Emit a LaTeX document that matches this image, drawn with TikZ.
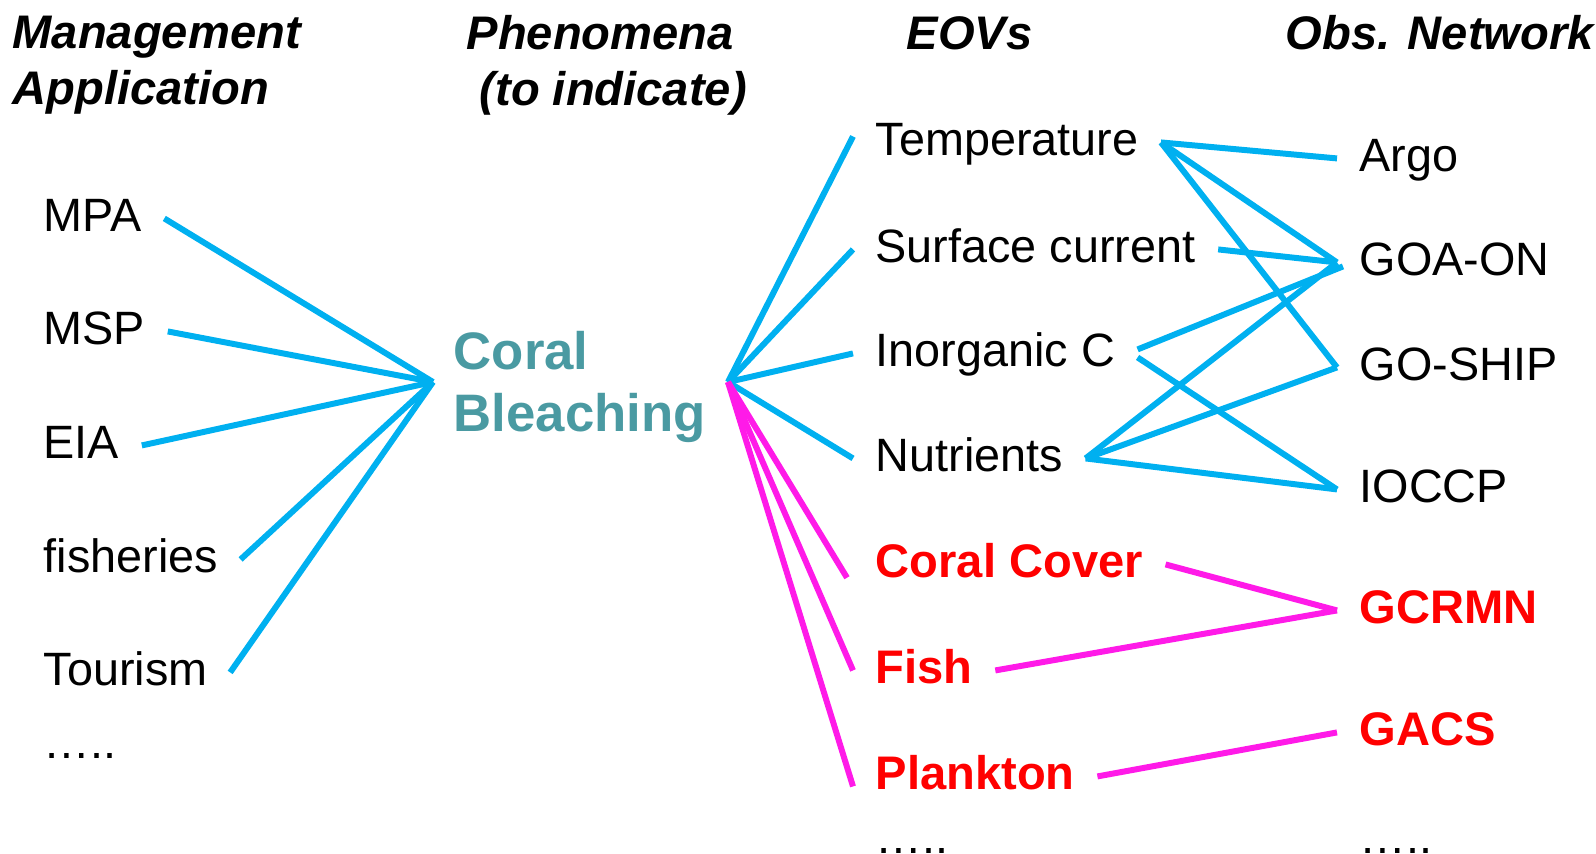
\documentclass[tikz,border=0pt]{standalone}
\usepackage{fontspec}
\setmainfont{Liberation Sans}
\usetikzlibrary{positioning,calc}
\definecolor{linkblue}{HTML}{00B0F0}
\definecolor{linkpink}{HTML}{FF1AE8}
\definecolor{eovred}{HTML}{FF0000}
\definecolor{bleachteal}{HTML}{4A9AA2}
\tikzset{
  headtext/.style={
    anchor=north west,
    inner sep=0pt,
    align=left,
    font=\fontsize{13.4}{15.9}\selectfont\bfseries\itshape
  },
  itemtext/.style={
    anchor=base west,
    inner ysep=0pt,
    inner xsep=0.22cm,
    text height=0.716em,
    text depth=0pt,
    font=\fontsize{13.3}{16}\selectfont
  },
  redtext/.style={
    itemtext,
    text=eovred,
    font=\fontsize{13.4}{16}\selectfont\bfseries
  },
  bleachtext/.style={
    anchor=north west,
    inner sep=0pt,
    align=left,
    text=bleachteal,
    font=\fontsize{15}{17.5}\selectfont\bfseries
  },
  bluelink/.style={
    draw=linkblue,
    line width=1.7pt
  },
  pinklink/.style={
    draw=linkpink,
    line width=1.7pt
  }
}

\begin{document}
\begin{tikzpicture}[x=0.01cm,y=-0.01cm]
\useasboundingbox (0,0) rectangle (1596,853);
% column heads
\node[headtext] (headmgmt) at (12,15) {Management\\Application};
\node[headtext] (headphen) at (466,15) {Phenomena\\\hspace*{0.13cm}(to indicate)};
\node[headtext, anchor=base west] (headeov) at (906,49) {EOVs};
\node[headtext, anchor=base west] (headnet) at (1285,49) {Obs. Network};
% management applications
\node[itemtext] (mpa) at (21,231) {MPA};
\node[itemtext] (msp) at (21,344) {MSP};
\node[itemtext] (eia) at (21,458) {EIA};
\node[itemtext] (fisheries) at (21,572) {fisheries};
\node[itemtext] (tourism) at (21,685) {Tourism};
\node[itemtext] (mgmtmore) at (21,758) {…..};
% phenomenon
\node[bleachtext] (bleach) at (453,331) {Coral\\Bleaching};
\coordinate (hubL) at (433,382);
\coordinate (hubR) at (728,382);
% EOVs
\node[itemtext] (temp) at (853,155) {Temperature};
\node[itemtext] (current) at (853,262) {Surface current};
\node[itemtext] (inorgc) at (853,366) {Inorganic C};
\node[itemtext] (nutr) at (853,471) {Nutrients};
\node[redtext] (cover) at (853,577) {Coral Cover};
\node[redtext] (fish) at (853,683) {Fish};
\node[redtext] (plankton) at (853,789) {Plankton};
\node[itemtext] (eovmore) at (853,853) {…..};
% observing networks
\node[itemtext] (argo) at (1337,171) {Argo};
\node[itemtext] (goaon) at (1337,275) {GOA-ON};
\node[itemtext] (goship) at (1337,380) {GO-SHIP};
\node[itemtext] (ioccp) at (1337,502) {IOCCP};
\node[redtext] (gcrmn) at (1337,623) {GCRMN};
\node[redtext] (gacs) at (1337,745) {GACS};
\node[itemtext] (netmore) at (1337,853) {…..};
% links
\foreach \a in {mpa,msp,eia,fisheries,tourism}
  \draw[bluelink] (\a.east) -- (hubL);
\draw[bluelink] (hubR) -- ([yshift=0.06cm]temp.west);
\foreach \a in {current,inorgc,nutr}
  \draw[bluelink] (hubR) -- (\a.west);
\foreach \b in {argo,goaon,goship}
  \draw[bluelink] (temp.east) -- (\b.west);
\draw[bluelink] (current.east) -- (goaon.west);
\draw[bluelink] ([yshift=0.04cm]inorgc.east) -- ([xshift=0.06cm,yshift=-0.04cm]goaon.west);
\draw[bluelink] ([yshift=-0.04cm]inorgc.east) -- (ioccp.west);
\foreach \b in {goaon,goship,ioccp}
  \draw[bluelink] (nutr.east) -- (\b.west);
\draw[pinklink] (hubR) -- ([xshift=-0.06cm]cover.south west);
\draw[pinklink] (hubR) -- (fish.west);
\draw[pinklink] (hubR) -- ([yshift=-0.1cm]plankton.west);
\draw[pinklink] (cover.east) -- (gcrmn.west);
\draw[pinklink] (fish.east) -- (gcrmn.west);
\draw[pinklink] (plankton.east) -- (gacs.west);
\end{tikzpicture}
\end{document}
